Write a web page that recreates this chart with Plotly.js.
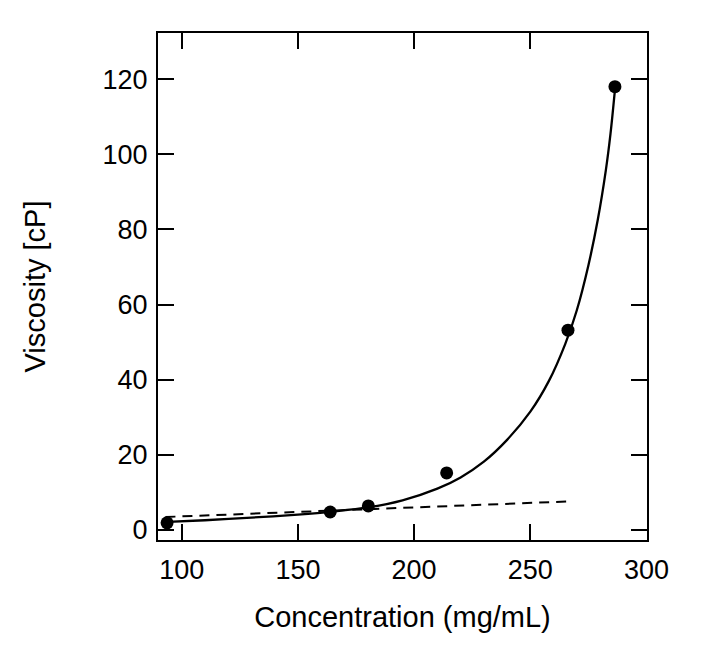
<!DOCTYPE html>
<html>
<head>
<meta charset="utf-8">
<script src="https://cdn.plot.ly/plotly-3.0.1.min.js"></script>
<style>html,body{margin:0;padding:0;background:#fff;}#chart{width:720px;height:646px;}</style>
</head>
<body>
<div id="chart"></div>
<script>
// Measured data points
const concentration = [93.7, 163.9, 180.3, 214.0, 266.2, 286.4];
const viscosity = [1.9, 4.8, 6.4, 15.2, 53.2, 118.0];

// Fitted curve
const fitX = [91.5, 110, 130, 150, 165, 180, 195, 210, 220, 230, 240, 250, 258, 265, 270, 275, 279, 282.5, 284.5, 286.3];
const fitY = [2.1, 2.6, 3.3, 4.1, 4.9, 6.0, 7.9, 11.0, 14.0, 18.2, 24.0, 31.5, 39.7, 49.5, 58.5, 70.5, 82.5, 95.8, 105.5, 116.5];

// Dashed low-concentration trend
const dashX = [93, 266.5];
const dashY = [3.46, 7.6];

const xTicks = [100, 150, 200, 250, 300];
const yTicks = [0, 20, 40, 60, 80, 100, 120];

const tickFont = {family: 'Liberation Sans, Arial, sans-serif', size: 27, color: '#000'};
const titleFont = {family: 'Liberation Sans, Arial, sans-serif', size: 29, color: '#000'};

const traces = [
  {x: dashX, y: dashY, mode: 'lines', line: {color: '#000', width: 2, dash: '10px,7px'}, hoverinfo: 'skip'},
  {x: fitX, y: fitY, mode: 'lines', line: {color: '#000', width: 2.3, shape: 'spline', smoothing: 0.9}, hoverinfo: 'skip'},
  {x: concentration, y: viscosity, mode: 'markers', marker: {color: '#000', size: 13}}
];

const axisCommon = {
  showline: true, linecolor: '#000', linewidth: 2, mirror: 'ticks',
  ticks: 'inside', ticklen: 16, tickwidth: 2, tickcolor: '#000',
  showgrid: false, zeroline: false, tickfont: tickFont
};

const layout = {
  width: 720, height: 646,
  margin: {l: 158, r: 73, t: 33, b: 106},
  paper_bgcolor: '#fff', plot_bgcolor: '#fff',
  showlegend: false,
  font: tickFont,
  xaxis: Object.assign({}, axisCommon, {
    range: [89.8, 300.2], tickvals: xTicks, ticktext: xTicks.map(String),
    ticklabelstandoff: 5,
    title: {text: 'Concentration (mg/mL)', font: titleFont, standoff: 22}
  }),
  yaxis: Object.assign({}, axisCommon, {
    range: [-2.66, 132.3], tickvals: yTicks, ticktext: yTicks.map(String),
    ticklabelstandoff: 3,
    title: {text: 'Viscosity [cP]', font: titleFont, standoff: 48}
  })
};

Plotly.newPlot('chart', traces, layout, {staticPlot: true, displayModeBar: false});
</script>
</body>
</html>
